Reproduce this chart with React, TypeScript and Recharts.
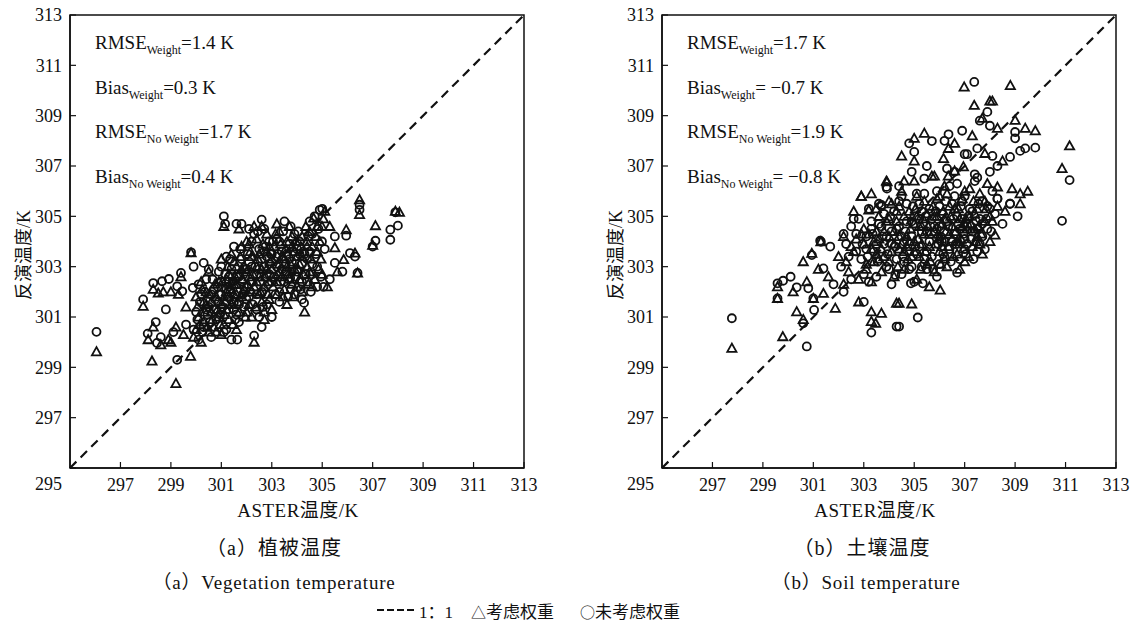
import { ScatterChart, Scatter, XAxis, YAxis, ReferenceLine, ReferenceArea } from 'recharts';

const ticks = [295, 297, 299, 301, 303, 305, 307, 309, 311, 313];

// (a) vegetation: [ASTER, retrieved]
const vegWeight = [
  [296.05, 299.62], [297.9, 301.43], [298.1, 300.1], [298.25, 299.25], [298.3, 300.6], [298.3, 302.1], [298.5, 301.95],
  [298.7, 302.0], [299.2, 298.36], [299.0, 302.0], [299.3, 301.9], [299.4, 302.6], [299.8, 303.55], [299.78, 299.44],
  [299.5, 300.3], [299.2, 300.6], [298.9, 300.1], [298.6, 299.9], [299.6, 301.4], [299.0, 300.0],
  [299.9, 300.2], [300.0, 300.5], [300.1, 301.0], [300.2, 300.0], [300.3, 301.6], [300.4, 302.0], [300.5, 300.4],
  [300.0, 301.8], [300.2, 302.4], [300.6, 301.2], [300.5, 302.8], [300.7, 300.6], [300.8, 301.8], [300.9, 302.4], [300.3, 300.8],
  [300.05, 301.4], [300.15, 300.7], [300.25, 302.1], [300.35, 301.2], [300.45, 300.6], [300.55, 301.9], [300.65, 300.9],
  [300.75, 302.3], [300.85, 301.3], [300.95, 300.7],
  [301.0, 300.3], [301.1, 301.1], [301.2, 302.0], [301.1, 304.6], [301.3, 302.7], [301.4, 301.5], [301.5, 303.2],
  [301.6, 300.5], [301.6, 302.3], [301.7, 304.5], [301.8, 301.8], [301.9, 303.0], [301.0, 303.3], [301.3, 300.9],
  [301.5, 301.9], [301.8, 303.8], [301.2, 302.5], [301.7, 301.2], [301.9, 302.1], [301.4, 303.5],
  [301.05, 302.4], [301.15, 301.6], [301.25, 303.0], [301.35, 302.1], [301.45, 300.7], [301.55, 302.6], [301.65, 301.6],
  [301.75, 303.4], [301.85, 302.5], [301.95, 301.0], [301.1, 300.7], [301.6, 303.0],
  [302.0, 302.8], [302.1, 301.5], [302.2, 303.4], [302.3, 300.0], [302.3, 302.2], [302.4, 304.1], [302.5, 301.9],
  [302.6, 304.6], [302.6, 302.9], [302.7, 301.2], [302.8, 303.6], [302.9, 302.4], [302.0, 304.0], [302.2, 301.0],
  [302.4, 303.0], [302.8, 304.3], [302.5, 302.6], [302.9, 301.7], [302.1, 303.9],
  [302.05, 302.3], [302.15, 303.6], [302.25, 302.7], [302.35, 301.4], [302.45, 303.3], [302.55, 302.0], [302.65, 303.9],
  [302.75, 302.6], [302.85, 301.9], [302.95, 303.2], [302.3, 304.6], [302.7, 300.9],
  [303.0, 302.9], [303.1, 303.8], [303.2, 301.9], [303.3, 304.4], [303.4, 302.6], [303.5, 303.3], [303.6, 301.5],
  [303.7, 304.6], [303.8, 302.3], [303.9, 303.6], [303.0, 301.3], [303.3, 303.1], [303.6, 304.0], [303.9, 302.9],
  [303.2, 304.7], [303.5, 302.1], [303.8, 304.2],
  [303.05, 302.2], [303.15, 304.3], [303.25, 302.7], [303.35, 303.9], [303.45, 301.8], [303.55, 303.7], [303.65, 302.7],
  [303.75, 303.1], [303.85, 301.8], [303.95, 304.0],
  [304.0, 303.4], [304.1, 302.5], [304.2, 304.2], [304.3, 301.2], [304.4, 303.0], [304.5, 304.4], [304.6, 302.2],
  [304.66, 304.93], [304.7, 302.5], [304.8, 303.6], [304.9, 304.0], [304.99, 304.6], [305.0, 302.7], [304.2, 302.0], [304.4, 303.8],
  [304.05, 302.9], [304.15, 303.8], [304.25, 302.7], [304.35, 304.6], [304.45, 302.3], [304.55, 303.3], [304.75, 304.2],
  [304.85, 302.9], [304.95, 303.3], [305.05, 304.9],
  [300.4, 301.5], [300.6, 301.6], [300.8, 300.4], [301.0, 301.5], [301.2, 301.3], [301.4, 302.3], [301.6, 301.9],
  [301.8, 302.9], [302.0, 301.2], [302.2, 302.0], [302.4, 302.4], [302.6, 301.6], [302.8, 302.9], [303.0, 303.3],
  [303.2, 302.4], [303.4, 303.4], [303.6, 303.0], [303.8, 303.8], [304.0, 302.2], [304.2, 303.4], [304.4, 304.0],
  [304.6, 303.8], [304.8, 304.6], [301.3, 301.8], [301.7, 302.7], [302.1, 302.6], [302.5, 303.5], [302.9, 303.8],
  [303.3, 302.8], [303.7, 302.5], [304.1, 303.1], [304.5, 302.8], [300.9, 301.0], [301.5, 302.3], [302.7, 302.2],
  [305.1, 305.2], [305.3, 304.6], [305.5, 303.75], [305.85, 303.28], [305.95, 304.47], [306.3, 303.54], [306.4, 302.75],
  [306.48, 305.66], [306.48, 305.07], [307.11, 304.63], [307.0, 303.85], [308.06, 305.16], [307.9, 305.2], [305.2, 302.2], [305.6, 302.8],
];

const vegNoWeight = [
  [296.05, 300.41], [297.9, 301.7], [298.08, 300.34], [298.3, 302.35], [298.45, 299.97], [298.65, 302.42], [298.92, 302.51],
  [299.25, 302.22], [299.45, 302.02], [299.4, 302.75], [299.8, 303.57], [299.9, 303.0], [300.3, 303.15], [299.87, 302.16],
  [299.25, 299.3], [298.4, 300.8], [298.8, 301.3], [299.1, 300.4], [299.6, 300.7], [298.6, 300.2],
  [299.9, 300.5], [300.0, 301.2], [300.1, 300.1], [300.2, 301.9], [300.3, 300.6], [300.4, 302.5], [300.5, 301.4],
  [300.6, 300.2], [300.7, 302.1], [300.8, 300.9], [300.9, 301.6], [300.1, 302.3], [300.5, 302.9], [300.7, 301.3], [300.9, 302.8],
  [300.05, 300.9], [300.15, 301.6], [300.25, 300.4], [300.35, 302.0], [300.45, 301.1], [300.55, 300.8], [300.65, 302.5],
  [300.75, 301.7], [300.85, 302.2], [300.95, 301.1],
  [301.0, 301.9], [301.1, 305.0], [301.15, 304.7], [301.2, 300.5], [301.3, 302.2], [301.4, 300.1], [301.5, 301.6],
  [301.6, 304.7], [301.63, 300.1], [301.7, 302.6], [301.8, 304.7], [301.9, 301.4], [301.0, 303.0], [301.2, 303.4],
  [301.4, 302.9], [301.6, 301.1], [301.8, 303.3], [301.9, 302.2], [301.3, 301.3], [301.5, 303.8],
  [301.05, 301.4], [301.15, 302.7], [301.25, 301.8], [301.35, 303.3], [301.45, 302.4], [301.55, 300.9], [301.65, 302.0],
  [301.75, 303.7], [301.85, 301.9], [301.95, 302.9], [301.1, 300.4], [301.7, 300.8],
  [302.0, 301.7], [302.1, 303.2], [302.2, 302.4], [302.3, 300.26], [302.3, 304.3], [302.4, 301.3], [302.5, 303.7],
  [302.6, 304.87], [302.6, 302.0], [302.7, 303.0], [302.8, 301.5], [302.9, 304.0], [302.0, 302.9], [302.2, 304.0],
  [302.4, 302.7], [302.7, 304.5], [302.9, 302.7], [302.5, 301.0], [302.8, 303.4],
  [302.05, 303.5], [302.15, 302.0], [302.25, 301.5], [302.35, 303.0], [302.45, 304.4], [302.55, 302.4], [302.65, 301.4],
  [302.75, 303.8], [302.85, 302.3], [302.95, 303.5], [302.1, 304.5], [302.6, 300.6],
  [303.0, 301.0], [303.1, 302.6], [303.2, 304.1], [303.3, 302.0], [303.4, 303.6], [303.5, 304.8], [303.6, 302.8],
  [303.73, 302.55], [303.75, 304.6], [303.8, 303.2], [303.9, 301.9], [303.0, 303.5], [303.3, 301.6], [303.5, 302.4],
  [303.7, 303.9], [303.2, 303.0], [303.9, 304.3],
  [303.05, 304.0], [303.15, 301.9], [303.25, 303.5], [303.35, 302.4], [303.45, 304.4], [303.55, 303.1], [303.65, 301.8],
  [303.75, 302.1], [303.85, 303.6], [303.95, 302.6],
  [304.0, 302.8], [304.1, 304.0], [304.2, 301.7], [304.28, 301.56], [304.3, 303.5], [304.4, 302.4], [304.5, 304.8],
  [304.6, 303.1], [304.7, 305.0], [304.8, 302.2], [304.9, 305.26], [304.99, 304.0], [305.05, 302.2], [304.2, 303.1], [304.6, 302.7],
  [304.05, 304.4], [304.15, 302.1], [304.25, 303.6], [304.35, 302.7], [304.45, 304.2], [304.55, 302.0], [304.75, 303.5],
  [304.85, 304.5], [304.95, 302.6], [305.1, 303.7],
  [300.4, 301.3], [300.6, 301.9], [300.8, 301.3], [301.0, 302.4], [301.2, 302.1], [301.4, 301.7], [301.6, 302.6],
  [301.8, 302.4], [302.0, 302.2], [302.2, 303.0], [302.4, 301.9], [302.6, 303.3], [302.8, 302.7], [303.0, 302.4],
  [303.2, 303.4], [303.4, 302.9], [303.6, 303.5], [303.8, 302.8], [304.0, 303.7], [304.2, 302.4], [304.4, 303.3],
  [304.6, 304.3], [304.8, 303.0], [301.3, 302.6], [301.7, 301.5], [302.1, 301.8], [302.5, 302.9], [302.9, 303.1],
  [303.3, 304.0], [303.7, 303.3], [304.1, 303.5], [304.5, 303.6], [300.9, 301.9], [301.5, 301.3], [302.7, 303.6],
  [305.0, 305.3], [305.5, 304.2], [305.5, 303.15], [305.8, 302.8], [305.95, 304.23], [306.1, 303.54], [306.3, 303.4],
  [306.4, 302.75], [306.48, 305.46], [306.48, 305.26], [307.0, 303.8], [307.11, 304.03], [307.7, 304.47], [307.7, 304.07],
  [307.9, 305.16], [308.0, 304.63], [305.3, 302.5],
];

// (b) soil
const soilWeight = [
  [297.77, 299.76], [299.58, 301.74], [299.58, 302.2], [299.79, 300.22], [300.34, 301.21], [300.74, 302.4], [300.6, 303.2],
  [300.94, 303.53], [301.0, 301.74], [300.6, 300.9], [301.3, 303.99], [301.4, 301.94], [301.87, 301.35], [300.2, 302.0],
  [301.6, 302.6], [301.2, 302.9],
  [303.3, 301.21], [303.3, 300.82], [303.47, 300.75], [303.7, 301.15], [304.3, 301.55], [304.4, 301.55], [304.9, 301.52],
  [305.6, 302.2], [306.03, 302.07], [302.8, 301.6], [302.2, 302.3],
  [302.0, 303.4], [302.2, 304.2], [302.4, 302.8], [302.5, 303.8], [302.6, 305.2], [302.8, 302.5], [302.9, 305.8],
  [303.0, 304.5], [303.1, 303.1], [303.2, 305.25], [303.3, 302.4], [303.4, 304.0], [303.5, 303.5], [303.6, 305.0],
  [303.7, 302.8], [303.8, 304.4], [303.92, 306.37], [304.0, 303.2], [304.1, 305.5], [304.2, 302.6], [304.3, 304.8],
  [304.4, 303.7], [304.5, 306.0], [304.6, 302.9], [304.7, 304.2], [304.8, 305.2], [304.9, 303.4], [305.0, 306.4],
  [305.1, 302.5], [305.2, 304.6], [305.3, 303.9], [305.4, 305.6], [305.5, 303.1], [305.6, 304.3], [305.7, 306.6],
  [305.8, 302.8], [305.9, 305.0], [306.0, 303.6], [306.1, 304.7], [306.2, 306.2], [306.3, 303.0], [306.4, 305.4],
  [306.5, 304.1], [306.6, 306.8], [306.7, 303.5], [306.8, 304.9], [306.9, 305.7], [307.0, 303.2], [307.1, 304.5],
  [307.2, 306.1], [307.3, 303.8], [307.4, 305.1], [307.5, 304.2], [307.6, 305.9], [307.7, 303.5], [307.8, 304.8],
  [307.9, 306.3], [308.0, 304.0], [308.2, 304.26], [308.3, 305.4], [308.3, 306.17], [308.6, 305.2], [308.88, 306.1],
  [309.2, 305.9], [309.2, 305.5], [302.7, 304.1], [303.3, 305.9], [304.0, 304.9], [305.0, 304.0], [305.5, 305.1],
  [306.0, 305.8], [306.5, 304.6], [307.0, 306.0], [303.6, 303.3], [304.4, 305.4], [305.8, 304.4], [306.2, 303.3],
  [302.3, 303.2], [302.6, 303.6], [302.9, 304.3], [303.1, 302.9], [303.3, 303.7], [303.5, 304.4], [303.7, 303.7],
  [303.9, 304.8], [304.1, 303.6], [304.2, 304.4], [304.35, 303.0], [304.5, 303.9], [304.6, 305.0], [304.75, 303.3],
  [304.85, 304.5], [305.0, 303.6], [305.05, 305.3], [305.15, 304.1], [305.25, 302.9], [305.35, 304.9], [305.45, 303.6],
  [305.55, 304.6], [305.65, 303.2], [305.75, 305.4], [305.85, 303.9], [305.95, 304.3], [306.05, 303.1], [306.15, 305.2],
  [306.25, 304.4], [306.35, 303.8], [306.45, 305.0], [306.55, 303.4], [306.65, 304.4], [306.75, 305.3], [306.85, 304.1],
  [306.95, 303.7], [307.05, 304.9], [307.15, 303.4], [307.25, 304.7], [307.35, 305.6], [307.45, 304.0], [307.55, 304.6],
  [307.65, 304.3], [307.85, 305.3], [308.1, 304.8], [303.0, 303.9], [304.0, 305.6], [305.1, 305.8], [306.3, 305.9], [306.8, 302.9],
  [303.2, 304.3], [303.4, 303.2], [303.6, 304.1], [303.8, 303.4], [304.0, 304.2], [304.2, 303.9], [304.4, 304.2],
  [304.6, 303.6], [304.8, 304.0], [305.0, 304.7], [305.2, 303.4], [305.4, 304.3], [305.6, 303.8], [305.8, 305.0],
  [306.0, 304.1], [306.2, 304.9], [306.4, 304.3], [306.6, 305.3], [306.8, 303.9], [307.0, 304.7], [307.2, 305.0],
  [307.4, 304.5], [307.6, 303.9], [307.8, 305.6], [308.0, 305.0], [303.5, 305.3], [304.3, 305.2], [305.1, 305.0],
  [305.9, 305.7], [306.7, 304.0], [307.5, 305.3], [304.7, 303.8], [305.3, 304.6], [306.1, 303.8], [306.9, 304.6],
  [306.98, 310.14], [308.81, 310.2], [308.0, 309.58], [308.1, 309.58], [307.38, 309.41], [307.7, 308.9], [308.3, 308.5],
  [309.0, 308.82], [309.4, 308.5], [309.8, 308.4], [311.16, 307.8], [310.86, 306.9], [306.36, 307.7], [305.4, 308.3],
  [305.0, 308.1], [304.5, 307.4], [305.0, 307.2], [306.16, 307.3], [306.95, 306.97], [305.8, 306.6], [306.35, 306.6],
  [303.9, 306.4], [304.6, 306.4], [302.9, 305.8], [307.3, 308.2], [306.6, 307.9], [308.5, 307.2], [309.5, 306.0], [307.8, 307.5],
];

const soilNoWeight = [
  [297.77, 300.95], [299.58, 302.34], [299.58, 301.74], [299.8, 302.44], [300.34, 302.18], [300.8, 302.14], [301.0, 301.74],
  [301.03, 301.28], [300.6, 300.75], [300.74, 299.83], [300.94, 303.46], [301.3, 303.99], [301.67, 303.8], [301.4, 302.93],
  [301.27, 304.03], [300.1, 302.6], [301.8, 302.3], [302.2, 302.0],
  [303.3, 300.38], [304.3, 300.62], [304.4, 300.62], [305.14, 300.98], [304.25, 302.67], [304.87, 302.34], [305.34, 302.34],
  [306.7, 302.76], [303.0, 301.6], [302.5, 302.5],
  [302.1, 303.0], [302.3, 303.9], [302.5, 304.6], [302.6, 304.9], [302.8, 304.9], [302.9, 303.3], [303.0, 302.7],
  [303.1, 304.2], [303.2, 305.3], [303.4, 303.6], [303.5, 302.6], [303.6, 304.7], [303.7, 305.45], [303.8, 303.9],
  [303.92, 306.1], [304.0, 302.9], [304.1, 304.4], [304.2, 305.2], [304.3, 303.3], [304.4, 306.2], [304.5, 302.7],
  [304.6, 304.0], [304.7, 305.5], [304.8, 303.6], [304.9, 304.8], [305.0, 302.4], [305.1, 305.9], [305.2, 303.8],
  [305.3, 304.4], [305.4, 306.5], [305.5, 302.9], [305.6, 305.3], [305.7, 303.4], [305.8, 304.6], [305.9, 306.0],
  [306.0, 303.1], [306.1, 305.1], [306.2, 304.0], [306.3, 306.9], [306.4, 303.7], [306.5, 305.5], [306.6, 304.3],
  [306.7, 306.3], [306.8, 303.3], [306.9, 304.9], [307.0, 305.8], [307.1, 303.9], [307.2, 305.3], [307.3, 304.4],
  [307.4, 306.4], [307.5, 303.6], [307.6, 304.9], [307.7, 305.6], [307.8, 303.69], [307.9, 304.5], [308.0, 305.3],
  [308.1, 306.0], [308.3, 305.7], [308.8, 305.5], [309.1, 305.0], [302.7, 303.6], [303.3, 304.8], [303.9, 303.0],
  [304.5, 305.8], [305.0, 305.0], [305.6, 304.0], [306.0, 304.6], [306.4, 306.2], [307.0, 304.1], [303.8, 305.1],
  [304.9, 303.0], [305.9, 302.6],
  [302.4, 303.4], [302.7, 304.3], [302.95, 303.9], [303.15, 303.4], [303.35, 304.3], [303.55, 303.2], [303.75, 304.2],
  [303.95, 303.5], [304.05, 305.0], [304.25, 303.8], [304.4, 304.6], [304.55, 303.4], [304.65, 304.4], [304.8, 302.9],
  [304.95, 305.4], [305.05, 303.8], [305.2, 304.9], [305.3, 303.0], [305.45, 305.0], [305.5, 303.6], [305.65, 304.6],
  [305.75, 302.9], [305.85, 305.2], [305.95, 303.9], [306.05, 304.2], [306.15, 303.5], [306.25, 305.6], [306.35, 304.6],
  [306.45, 303.2], [306.55, 304.9], [306.65, 303.9], [306.75, 304.7], [306.85, 305.4], [306.95, 304.3], [307.05, 303.5],
  [307.15, 305.0], [307.25, 304.1], [307.35, 303.3], [307.45, 304.8], [307.55, 305.5], [307.7, 304.2], [307.85, 304.9],
  [308.05, 304.4], [308.2, 305.1], [303.2, 302.4], [304.1, 302.3], [305.4, 305.9], [306.6, 305.8], [302.2, 304.3], [308.5, 304.7],
  [303.1, 303.7], [303.3, 304.5], [303.5, 303.9], [303.7, 304.6], [303.9, 304.2], [304.1, 303.9], [304.3, 304.5],
  [304.5, 304.2], [304.7, 304.8], [304.9, 304.2], [305.1, 303.5], [305.3, 305.2], [305.5, 304.4], [305.7, 304.9],
  [305.9, 304.5], [306.1, 304.0], [306.3, 304.8], [306.5, 304.0], [306.7, 305.0], [306.9, 305.6], [307.1, 304.6],
  [307.3, 305.2], [307.5, 304.5], [307.7, 304.7], [307.9, 305.4], [303.6, 305.5], [304.4, 305.6], [305.2, 305.5],
  [306.0, 305.4], [306.8, 304.5], [307.6, 303.9], [304.6, 303.2], [305.4, 303.3], [306.2, 303.4], [307.0, 303.7],
  [307.38, 310.34], [307.9, 309.15], [307.6, 308.8], [308.0, 308.6], [309.0, 308.35], [309.0, 308.1], [309.8, 307.73],
  [309.4, 307.7], [309.2, 307.6], [308.8, 307.36], [311.16, 306.44], [310.86, 304.82], [306.36, 308.26], [306.2, 308.0],
  [305.7, 307.99], [304.8, 307.9], [305.0, 307.56], [304.9, 306.77], [307.0, 307.47], [307.1, 307.47], [307.5, 307.7],
  [308.1, 307.4], [308.3, 307.0], [308.0, 306.77], [307.5, 306.54], [307.4, 306.67], [306.6, 306.77], [303.9, 306.17],
  [308.3, 305.7], [308.8, 305.5], [303.7, 305.4], [306.9, 308.4], [305.5, 307.0],
];

const vegStats = [['RMSE', 'Weight', '=1.4 K'], ['Bias', 'Weight', '=0.3 K'], ['RMSE', 'No Weight', '=1.7 K'], ['Bias', 'No Weight', '=0.4 K']];
const soilStats = [['RMSE', 'Weight', '=1.7 K'], ['Bias', 'Weight', '= \u22120.7 K'], ['RMSE', 'No Weight', '=1.9 K'], ['Bias', 'No Weight', '= \u22120.8 K']];

const FONT = '"Liberation Serif", "Times New Roman", "Noto Sans CJK SC", serif';
const CJK = '"Noto Sans CJK SC", sans-serif';
const toPts = (arr: number[][]) => arr.map(([x, y]) => ({ x, y }));

const Circle = (p: any) => <circle cx={p.cx} cy={p.cy} r={4} fill="none" stroke="#111" strokeWidth={1.8} />;
const Tri = (p: any) => (
  <polygon
    points={`${p.cx},${p.cy - 4.6} ${p.cx - 4.6},${p.cy + 3.6} ${p.cx + 4.6},${p.cy + 3.6}`}
    fill="none"
    stroke="#111"
    strokeWidth={1.8}
  />
);

const YTick = (p: any) => (
  <text x={p.x} y={p.payload.value === 295 ? p.y + 16 : p.y} dy="0.355em" textAnchor="end" fontSize={18} fontFamily={FONT} fill="#111">
    {p.payload.value}
  </text>
);

const Panel = ({ left, weight, noWeight, stats }: any) => (
  <div style={{ position: 'absolute', left, top: 0, width: 540, height: 500 }}>
    <ScatterChart width={540} height={500} margin={{ top: 15, right: 16, bottom: 2, left: 8 }}>
      <XAxis
        type="number"
        dataKey="x"
        domain={[295, 313]}
        ticks={ticks.slice(1)}
        allowDataOverflow
        height={30}
        tickSize={-6}
        tickMargin={16}
        axisLine={{ stroke: '#111', strokeWidth: 1.5 }}
        tickLine={{ stroke: '#111', strokeWidth: 1.2 }}
        tick={{ fontSize: 18, fontFamily: FONT, fill: '#111' }}
      />
      <YAxis
        type="number"
        dataKey="y"
        domain={[295, 313]}
        ticks={ticks}
        allowDataOverflow
        width={62}
        tickSize={-6}
        tickMargin={14}
        axisLine={{ stroke: '#111', strokeWidth: 1.5 }}
        tickLine={{ stroke: '#111', strokeWidth: 1.2 }}
        tick={<YTick />}
      />
      <ReferenceArea x1={295} x2={313} y1={295} y2={313} fill="none" fillOpacity={0} stroke="#111" strokeWidth={1.5} />
      <ReferenceLine
        segment={[{ x: 295, y: 295 }, { x: 313, y: 313 }]}
        stroke="#111"
        strokeWidth={2.2}
        strokeDasharray="9 6"
      />
      <Scatter data={toPts(weight)} shape={Tri} isAnimationActive={false} />
      <Scatter data={toPts(noWeight)} shape={Circle} isAnimationActive={false} />
    </ScatterChart>
    <div style={{ position: 'absolute', left: 95, top: 22, fontFamily: FONT, fontSize: 19, color: '#111', lineHeight: '42.5px' }}>
      {stats.map((s: string[]) => (
        <div key={s[0] + s[1]} style={{ whiteSpace: 'pre' }}>
          {s[0]}
          <span style={{ fontSize: 12, position: 'relative', top: 5 }}>{s[1]}</span>
          {s[2]}
        </div>
      ))}
    </div>
  </div>
);

const textStyle = { position: 'absolute' as const, fontFamily: FONT, color: '#111', whiteSpace: 'nowrap' as const, transform: 'translate(-50%, -50%)' };

export default function App() {
  return (
    <div style={{ position: 'absolute', left: 0, top: 0, width: 1135, height: 625, background: '#fff' }}>
      <Panel left={0} weight={vegWeight} noWeight={vegNoWeight} stats={vegStats} />
      <Panel left={592} weight={soilWeight} noWeight={soilNoWeight} stats={soilStats} />

      <div style={{ ...textStyle, left: 22, top: 255, fontSize: 18, transform: 'translate(-50%, -50%) rotate(-90deg)' }}>反演温度/K</div>
      <div style={{ ...textStyle, left: 614, top: 255, fontSize: 18, transform: 'translate(-50%, -50%) rotate(-90deg)' }}>反演温度/K</div>

      <div style={{ ...textStyle, left: 298, top: 508, fontSize: 19, letterSpacing: 0.5 }}>ASTER温度/K</div>
      <div style={{ ...textStyle, left: 875, top: 508, fontSize: 19, letterSpacing: 0.5 }}>ASTER温度/K</div>

      <div style={{ ...textStyle, left: 274, top: 546, fontSize: 20, letterSpacing: 1 }}>（a）植被温度</div>
      <div style={{ ...textStyle, left: 862, top: 546, fontSize: 20, letterSpacing: 1 }}>（b）土壤温度</div>

      <div style={{ ...textStyle, left: 274, top: 580, fontSize: 19, letterSpacing: 0.8 }}>（a）Vegetation temperature</div>
      <div style={{ ...textStyle, left: 866, top: 580, fontSize: 19, letterSpacing: 0.8 }}>（b）Soil temperature</div>

      <div style={{ position: 'absolute', left: 377, top: 599, height: 22, display: 'flex', alignItems: 'center', fontFamily: FONT, fontSize: 17, color: '#111', whiteSpace: 'nowrap' }}>
        <svg width={40} height={6}>
          <line x1={0} y1={3} x2={40} y2={3} stroke="#111" strokeWidth={2.2} strokeDasharray="7 3" />
        </svg>
        <span style={{ marginLeft: 2 }}>1：1</span>
        <span style={{ marginLeft: 18 }}>
          <span style={{ fontFamily: CJK, fontSize: 15 }}>△</span>考虑权重
        </span>
        <span style={{ marginLeft: 26 }}>
          <span style={{ fontFamily: CJK, fontSize: 15 }}>○</span>未考虑权重
        </span>
      </div>
    </div>
  );
}
